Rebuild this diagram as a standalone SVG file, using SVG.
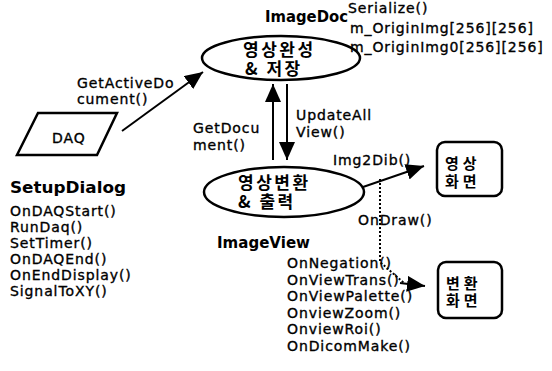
<svg xmlns="http://www.w3.org/2000/svg" width="552" height="371" viewBox="0 0 552 371">
<style>
.t{font-family:"DejaVu Sans","Liberation Sans",sans-serif;font-size:14px;letter-spacing:0.9px;fill:#000;stroke:#000;stroke-width:0.35}
.b{font-family:"DejaVu Sans","Liberation Sans",sans-serif;font-size:15.5px;font-weight:bold;fill:#000}
.k{font-family:"Noto Sans CJK KR","DejaVu Sans",sans-serif;font-size:17px;font-weight:bold;letter-spacing:2.5px;fill:#000}
.ks{font-family:"Noto Sans CJK KR","DejaVu Sans",sans-serif;font-size:15px;font-weight:bold;letter-spacing:4px;fill:#000}
.shape{fill:#fff;stroke:#000;stroke-width:2.5}
.ln{fill:none;stroke:#000;stroke-width:2}
.dot{fill:none;stroke:#000;stroke-width:2;stroke-dasharray:2 2}
</style>
<defs>
<marker id="ah" markerUnits="userSpaceOnUse" markerWidth="20" markerHeight="16" refX="18" refY="8" orient="auto">
<path d="M0,0 L18,8 L0,16 Z" fill="#000"/>
</marker>
</defs>
<rect width="552" height="371" fill="#fff"/>
<g id="imagedoc">
<ellipse class="shape" cx="281" cy="58" rx="79" ry="22"/>
<text class="k" x="243" y="56">영상완성</text>
<text class="k" x="245" y="75">&amp; 저장</text>
<text class="b" x="265" y="22" textLength="83" lengthAdjust="spacingAndGlyphs">ImageDoc</text>
<text class="t" x="348" y="13">Serialize()</text>
<text class="t" x="350" y="33">m_OriginImg[256][256]</text>
<text class="t" x="350" y="52">m_OriginImg0[256][256]</text>
</g>
<g id="daq">
<polygon class="shape" points="38,113 117,113 97,155 17,155"/>
<text class="t" x="52" y="143">DAQ</text>
</g>
<g id="setupdialog">
<text class="b" x="10" y="193" textLength="116" lengthAdjust="spacingAndGlyphs">SetupDialog</text>
<text class="t" x="10" y="216">OnDAQStart()</text>
<text class="t" x="10" y="232">RunDaq()</text>
<text class="t" x="10" y="248">SetTimer()</text>
<text class="t" x="10" y="264">OnDAQEnd()</text>
<text class="t" x="10" y="280">OnEndDisplay()</text>
<text class="t" x="10" y="296">SignalToXY()</text>
</g>
<g id="imageview">
<ellipse class="shape" cx="284" cy="192" rx="80" ry="25"/>
<text class="k" x="238" y="189">영상변환</text>
<text class="k" x="238" y="208">&amp; 출력</text>
<text class="b" x="217" y="248" textLength="93" lengthAdjust="spacingAndGlyphs">ImageView</text>
<text class="t" x="287" y="268">OnNegation()</text>
<text class="t" x="287" y="285">OnViewTrans()</text>
<text class="t" x="287" y="301">OnViewPalette()</text>
<text class="t" x="287" y="318">OnviewZoom()</text>
<text class="t" x="287" y="334">OnviewRoi()</text>
<text class="t" x="287" y="351">OnDicomMake()</text>
</g>
<g id="screen1">
<rect class="shape" x="437" y="142" width="65" height="54" rx="8"/>
<text class="ks" x="445" y="169">영상</text>
<text class="ks" x="445" y="187">화면</text>
</g>
<g id="screen2">
<rect class="shape" x="438" y="262" width="64" height="56" rx="8"/>
<text class="ks" x="446" y="289">변환</text>
<text class="ks" x="446" y="306">화면</text>
</g>
<g id="connectors">
<line class="ln" x1="122" y1="131" x2="203" y2="72" marker-end="url(#ah)"/>
<line class="ln" x1="273" y1="160" x2="273" y2="84" marker-end="url(#ah)"/>
<line class="ln" x1="287" y1="84" x2="287" y2="160" marker-end="url(#ah)"/>
<line class="ln" x1="363" y1="187" x2="424" y2="166" marker-end="url(#ah)"/>
<polyline class="dot" points="380,179 380,262 404,283"/>
<line class="ln" x1="400" y1="283" x2="425" y2="286" marker-end="url(#ah)"/>
<text class="t" x="77" y="88">GetActiveDo</text>
<text class="t" x="77" y="104">cument()</text>
<text class="t" x="193" y="133">GetDocu</text>
<text class="t" x="193" y="150">ment()</text>
<text class="t" x="296" y="120">UpdateAll</text>
<text class="t" x="296" y="137">View()</text>
<text class="t" x="333" y="165">Img2Dib()</text>
<text class="t" x="358" y="225">OnDraw()</text>
</g>
</svg>
